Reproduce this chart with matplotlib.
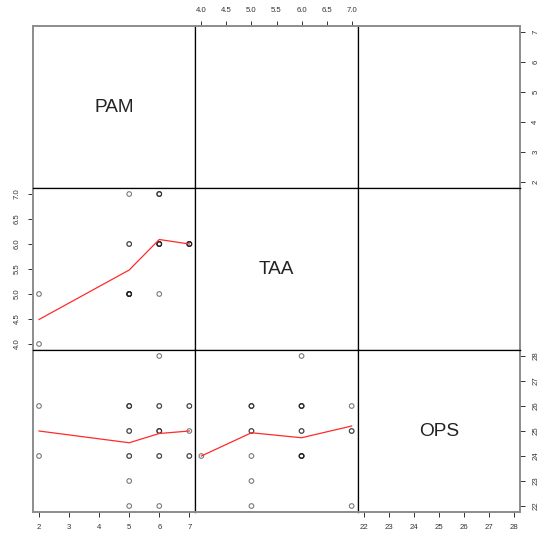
import matplotlib
matplotlib.use("Agg")
import matplotlib.pyplot as plt
import numpy as np

plt.rcParams["font.family"] = ["Liberation Sans", "DejaVu Sans"]

# Observations (one entry per case)
pam = [2, 2, 5, 5, 5, 5, 5, 5, 5, 5, 5, 6, 6, 6, 6, 6, 6, 6, 6, 6, 7, 7, 7, 7, 7]
taa = [4, 5, 5, 5, 5, 5, 5, 5, 6, 6, 7, 5, 6, 6, 6, 6, 6, 7, 7, 7, 6, 6, 6, 6, 6]
ops = [24, 26, 26, 25, 25, 24, 23, 22, 26, 24, 26, 26, 28, 26, 25, 24, 24, 25, 25, 22,
       26, 26, 25, 24, 24]

var_names = ["PAM", "TAA", "OPS"]

# Smoother curves shown in the lower panels
smooth_pam_x = [2, 5, 6, 7]
smooth_pam_taa = [4.49, 5.48, 6.09, 6.0]
smooth_pam_ops = [25.0, 24.53, 24.9, 25.0]
smooth_taa_x = [4, 5, 6, 7]
smooth_taa_ops = [24.0, 24.93, 24.73, 25.2]

# Tick values for each variable
pam_ticks = [2, 3, 4, 5, 6, 7]
taa_ticks = [4.0, 4.5, 5.0, 5.5, 6.0, 6.5, 7.0]
ops_ticks = [22, 23, 24, 25, 26, 27, 28]

data = [pam, taa, ops]
ticks = [pam_ticks, taa_ticks, ops_ticks]
tick_fmt = ["{:d}", "{:.1f}", "{:d}"]
smooths = {(1, 0): (smooth_pam_x, smooth_pam_taa),
           (2, 0): (smooth_pam_x, smooth_pam_ops),
           (2, 1): (smooth_taa_x, smooth_taa_ops)}


def lims(v):
    lo, hi = min(v), max(v)
    pad = 0.04 * (hi - lo)
    return lo - pad, hi + pad


W, H = 546, 541
fig, axes = plt.subplots(3, 3, figsize=(W / 100, H / 100), dpi=100)
fig.subplots_adjust(left=33 / W, right=520 / W, top=1 - 26 / H, bottom=1 - 512 / H,
                    wspace=0, hspace=0)

tick_kw = dict(labelsize=5.6, labelcolor="#333333", length=3.4, width=0.7,
               color="#333333", pad=5.5)

for i in range(3):
    for j in range(3):
        ax = axes[i, j]
        ax.set_xlim(*lims(data[j]))
        ax.set_ylim(*lims(data[i]))
        ax.set_xticks([])
        ax.set_yticks([])
        for s in ax.spines.values():
            s.set_color("black")
            s.set_linewidth(0.9)

        if i == j:
            ax.text(0.5, 0.5, var_names[i], transform=ax.transAxes, ha="center",
                    va="center", fontsize=13.7, color="#222222")
        elif i > j:
            ax.scatter(data[j], data[i], s=11, facecolors="none", edgecolors="#222222",
                       linewidths=0.8, alpha=0.6, zorder=3)
            sx, sy = smooths[(i, j)]
            ax.plot(sx, sy, color="#ff2a2a", lw=0.9, zorder=4)

        # axes placed around the outside of the grid, alternating sides
        if i == 0 and j % 2 == 1:
            ax.xaxis.set_ticks_position("top")
            ax.set_xticks(ticks[j])
            ax.set_xticklabels([tick_fmt[j].format(t) for t in ticks[j]])
            ax.tick_params(axis="x", **tick_kw)
        if i == 2 and j % 2 == 0:
            ax.xaxis.set_ticks_position("bottom")
            ax.set_xticks(ticks[j])
            ax.set_xticklabels([tick_fmt[j].format(t) for t in ticks[j]])
            ax.tick_params(axis="x", **tick_kw)
        if j == 0 and i % 2 == 1:
            ax.yaxis.set_ticks_position("left")
            ax.set_yticks(ticks[i])
            ax.set_yticklabels([tick_fmt[i].format(t) for t in ticks[i]], rotation=90,
                               va="center")
            ax.tick_params(axis="y", **tick_kw)
        if j == 2 and i % 2 == 0:
            ax.yaxis.set_ticks_position("right")
            ax.set_yticks(ticks[i])
            ax.set_yticklabels([tick_fmt[i].format(t) for t in ticks[i]], rotation=90,
                               va="center")
            ax.tick_params(axis="y", **tick_kw)

        # outer frame is drawn lighter
        if i == 0:
            ax.spines["top"].set_color("#8c8c8c")
            ax.spines["top"].set_linewidth(1.4)
        if i == 2:
            ax.spines["bottom"].set_color("#8c8c8c")
            ax.spines["bottom"].set_linewidth(1.4)
        if j == 0:
            ax.spines["left"].set_color("#8c8c8c")
            ax.spines["left"].set_linewidth(1.4)
        if j == 2:
            ax.spines["right"].set_color("#8c8c8c")
            ax.spines["right"].set_linewidth(1.4)

fig.savefig("out.png", dpi=100, facecolor="white")
